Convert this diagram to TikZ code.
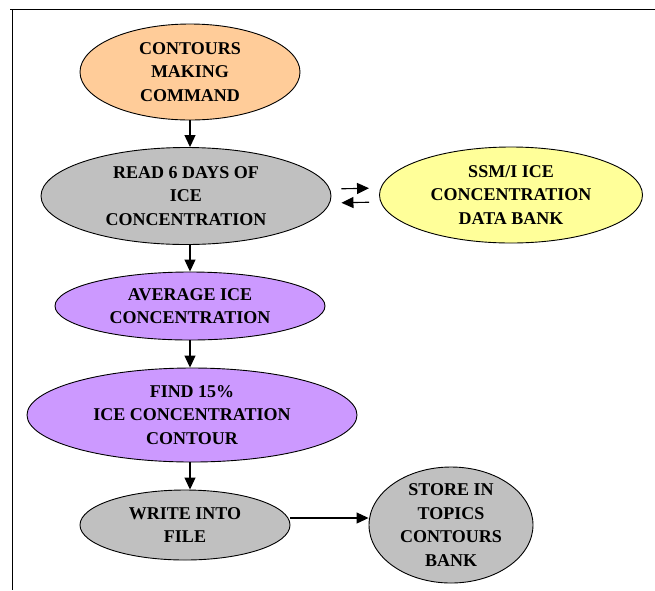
\documentclass[tikz,border=0pt]{standalone}
\usepackage{fontspec}
\setmainfont{Liberation Serif}
\usetikzlibrary{shapes.geometric,arrows.meta}
\definecolor{corange}{HTML}{FFCC99}
\definecolor{cgray}{HTML}{C0C0C0}
\definecolor{cyellow}{HTML}{FFFF99}
\definecolor{cpurple}{HTML}{CC99FF}
\tikzset{
  ell/.style={ellipse, draw=black, line width=0.9pt, inner sep=0pt},
  txt/.style={align=center, inner sep=0pt, font=\fontsize{18}{23.5}\selectfont\bfseries},
  arr/.style={draw=black, line width=1.1pt, -{Triangle[length=12pt,width=11pt]}},
}
\begin{document}
\begin{tikzpicture}[x=1pt,y=1pt]
\useasboundingbox (0,0) rectangle (655,-590);
\draw[line width=1pt] (10,-9) -- (655,-9);
\draw[line width=1pt] (12,-9) -- (12,-590);

\node[ell, fill=corange, minimum width=220, minimum height=96] (cmd) at (190,-72) {};
\node[txt] (cmdt) at (cmd.center) {CONTOURS\\MAKING\\COMMAND};

\node[ell, fill=cgray, minimum width=290, minimum height=97] (read) at (186,-196) {};
\node[txt] (readt) at (read.center) {READ 6 DAYS OF\\ICE\\CONCENTRATION};

\node[ell, fill=cyellow, minimum width=263, minimum height=96] (ssm) at (511,-195) {};
\node[txt] (ssmt) at (ssm.center) {SSM/I ICE\\CONCENTRATION\\DATA BANK};

\node[ell, fill=cpurple, minimum width=270, minimum height=68] (avg) at (190,-306) {};
\node[txt] (avgt) at (avg.center) {AVERAGE ICE\\CONCENTRATION};

\node[ell, fill=cpurple, minimum width=330, minimum height=94] (find) at (192,-415) {};
\node[txt] (findt) at (find.center) {FIND 15\%\\ICE CONCENTRATION\\CONTOUR};

\node[ell, fill=cgray, minimum width=210, minimum height=70] (write) at (185,-525) {};
\node[txt] (writet) at (write.center) {WRITE INTO\\FILE};

\node[ell, fill=cgray, minimum width=164, minimum height=116] (store) at (451,-525) {};
\node[txt] (storet) at (store.center) {STORE IN\\TOPICS\\CONTOURS\\BANK};

\draw[arr] (cmd.south) -- (cmd.south |- read.north);
\draw[arr] (avg.north |- read.south) -- (avg.north);
\draw[arr] (avg.south) -- (avg.south |- find.north);
\draw[arr] (find.south -| avg.south) -- (avg.south |- write.north);
\draw[arr, shorten <=10pt, shorten >=10pt] ([yshift=7pt]read.east) -- ([yshift=7pt]ssm.west);
\draw[arr, shorten <=10pt, shorten >=10pt] ([yshift=-7pt]ssm.west) -- ([yshift=-7pt]read.east);
\draw[arr] ([yshift=7pt]write.east) -- ([yshift=7pt]store.west);
\end{tikzpicture}
\end{document}
